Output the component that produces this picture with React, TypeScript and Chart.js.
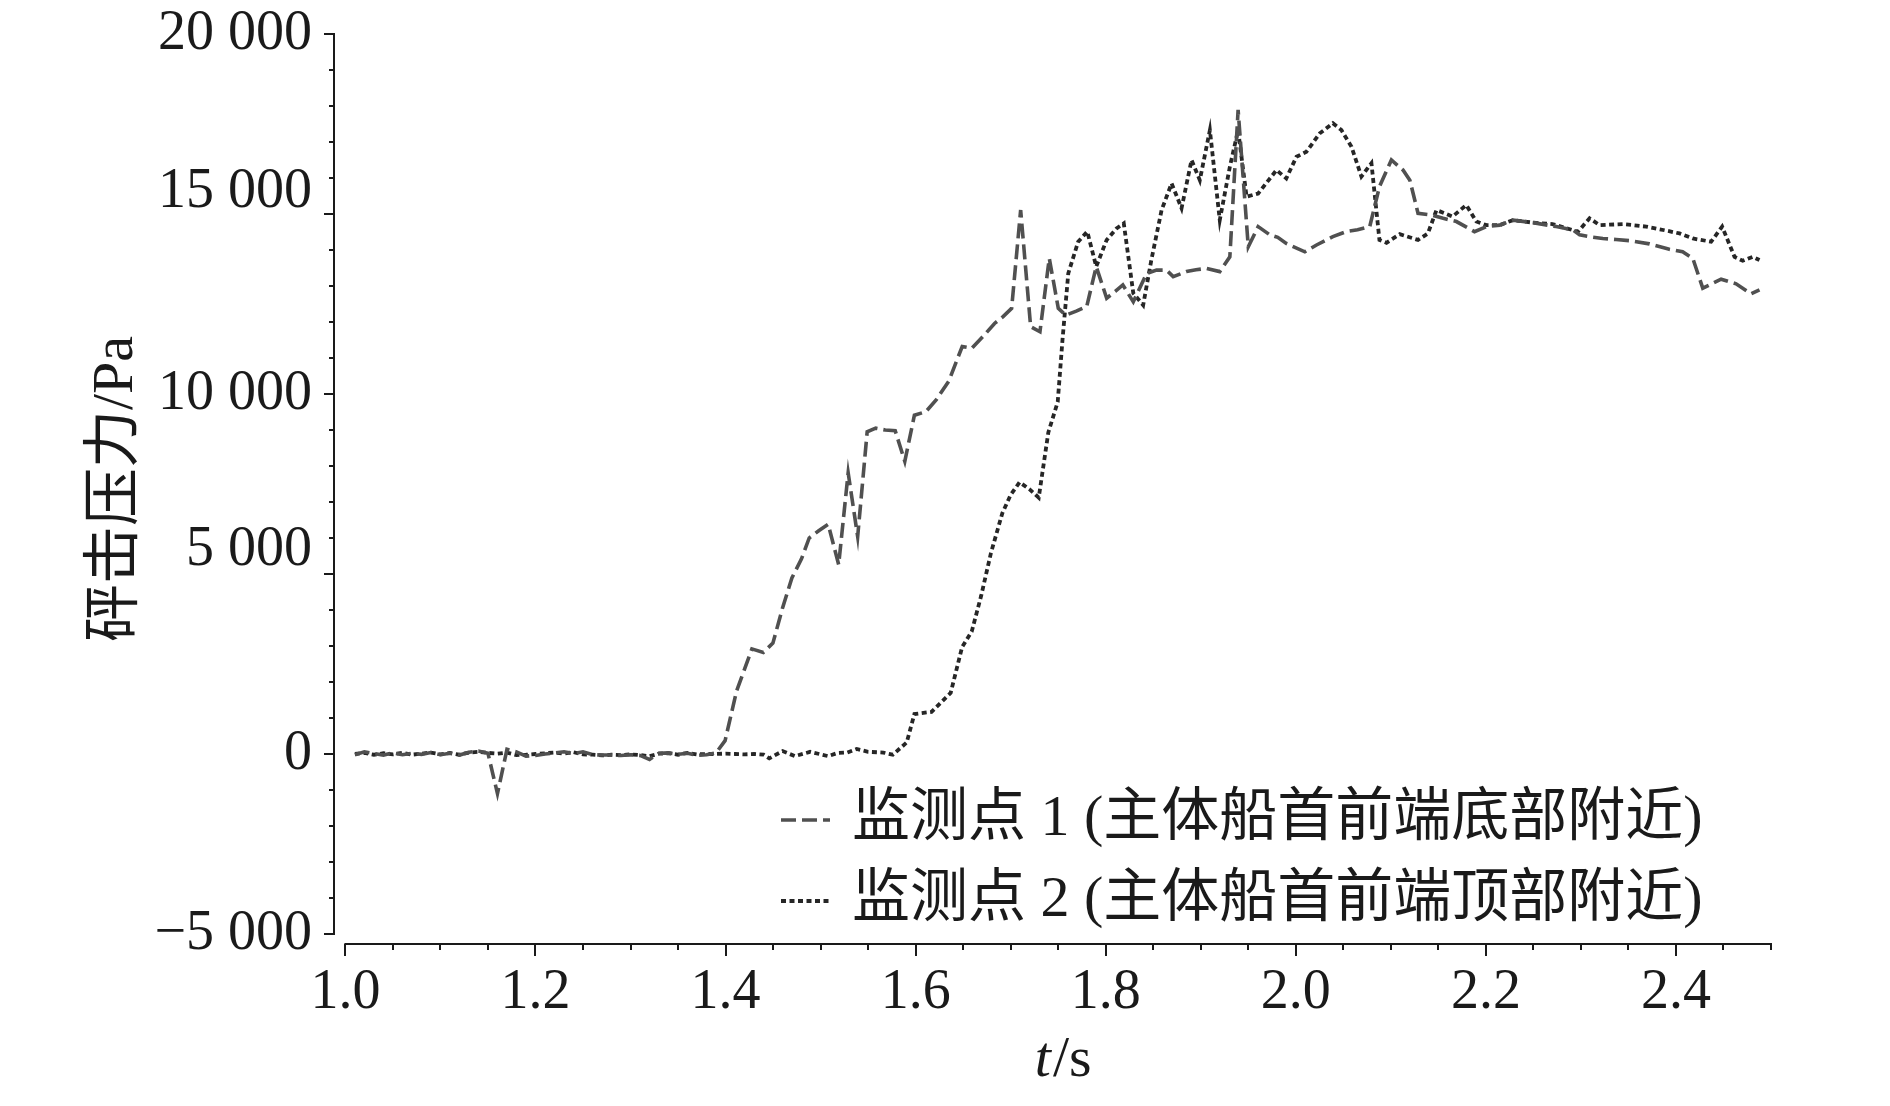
import React, { useEffect, useRef } from "react";
import { Chart, registerables } from "chart.js";

Chart.register(...registerables);

// ---- data ----
const seriesLabels = [
  "监测点 1 (主体船首前端底部附近)",
  "监测点 2 (主体船首前端顶部附近)",
];

const s1Time = [
  1.01, 1.02, 1.03, 1.04, 1.05, 1.06, 1.07, 1.08, 1.09, 1.1, 1.11, 1.12, 1.13, 1.14, 1.15, 1.16, 1.17, 1.18, 1.19, 1.2,
  1.21, 1.22, 1.23, 1.24, 1.25, 1.26, 1.27, 1.28, 1.29, 1.3, 1.31, 1.32, 1.33, 1.34, 1.35, 1.36, 1.37, 1.38, 1.39,
  1.3995, 1.4116, 1.4277, 1.4397, 1.4498, 1.4598, 1.4698, 1.4799, 1.488, 1.498, 1.508, 1.519, 1.529, 1.539, 1.549,
  1.558, 1.568, 1.5785, 1.5886, 1.5987, 1.6108, 1.622, 1.6349, 1.649, 1.659, 1.671, 1.683, 1.692, 1.701, 1.7105,
  1.721, 1.7308, 1.7406, 1.7501, 1.758, 1.769, 1.78, 1.79, 1.801, 1.81, 1.818, 1.829, 1.843, 1.8535, 1.864, 1.871,
  1.885, 1.895, 1.906, 1.92, 1.9306, 1.9393, 1.95, 1.9604, 1.9727, 1.981, 1.99, 2.0095, 2.0218, 2.039, 2.053, 2.065,
  2.0778, 2.088, 2.1006, 2.1128, 2.12, 2.1286, 2.1427, 2.155, 2.169, 2.188, 2.2005, 2.2145, 2.2285, 2.2496, 2.274,
  2.2916, 2.2986, 2.309, 2.323, 2.337, 2.351, 2.372, 2.393, 2.407, 2.4177, 2.4282, 2.4475, 2.4633, 2.479, 2.4879,
];
const s1Value = [
  -20, 60, 10, -30, 30, -20, 20, -10, 40, -20, 20, -30, 50, 80, 20, -1100, 130, 60, -60, -40,
  0, 30, 60, 10, 60, -20, -30, -30, -40, -20, -40, -150, 20, 30, -10, 20, -40, -20, 30,
  370, 1750, 2920, 2820, 3080, 4040, 4890, 5420, 6000, 6200, 6380, 5260, 7810, 6040, 8950,
  9050, 9000, 8980, 8130, 9410, 9510, 9850, 10360, 11320, 11270, 11600, 11960, 12150, 12380, 15110,
  11870, 11730, 13770, 12380, 12190, 12300, 12430, 13540, 12660, 12850, 13030, 12560, 13350, 13440, 13440, 13260,
  13400, 13450, 13490, 13400, 13810, 17890, 14090, 14650, 14420, 14350, 14180, 13950, 14140, 14370, 14510, 14560,
  14650, 15760, 16500, 16220, 15940, 15020, 14970, 14880, 14790, 14510, 14650, 14690, 14830, 14760, 14650,
  14560, 14420, 14370, 14320, 14290, 14260, 14170, 14020, 13950, 13770, 12940, 13190, 13060, 12780, 12890,
];

const s2Time = [
  1.01, 1.02, 1.03, 1.04, 1.05, 1.06, 1.07, 1.08, 1.09, 1.1, 1.11, 1.12, 1.13, 1.14, 1.15, 1.16, 1.17, 1.18, 1.19, 1.2,
  1.21, 1.22, 1.23, 1.24, 1.25, 1.26, 1.27, 1.28, 1.29, 1.3, 1.31, 1.32, 1.33, 1.34, 1.35, 1.36, 1.37, 1.38, 1.39,
  1.4, 1.41, 1.42, 1.43, 1.44, 1.446, 1.46, 1.473, 1.489, 1.508, 1.518, 1.528, 1.538, 1.55, 1.566, 1.576,
  1.5906, 1.5987, 1.6167, 1.6369, 1.6489, 1.659, 1.669, 1.6792, 1.6912, 1.7, 1.7094, 1.72, 1.7295, 1.7396, 1.7495,
  1.7545, 1.7606, 1.771, 1.7806, 1.79, 1.801, 1.8114, 1.819, 1.829, 1.8394, 1.848, 1.8588, 1.8693, 1.8798, 1.8903,
  1.899, 1.9096, 1.92, 1.9306, 1.9393, 1.9482, 1.9604, 1.9797, 1.99, 2.0007, 2.0112, 2.0252, 2.039, 2.048, 2.0586,
  2.069, 2.0796, 2.088, 2.0954, 2.1094, 2.1286, 2.139, 2.148, 2.165, 2.1794, 2.19, 2.2005, 2.2145, 2.2285, 2.2496,
  2.27, 2.2969, 2.3091, 2.3197, 2.344, 2.3687, 2.3897, 2.4037, 2.4177, 2.437, 2.4486, 2.4616, 2.4703, 2.4808, 2.4879,
];
const s2Value = [
  0, 30, -20, 20, -10, 30, -20, 10, 40, -10, 30, -20, 40, 60, 30, 10, 40, -30, -20, 0,
  20, 40, 10, 50, -10, -20, -40, -20, -30, -10, -30, -60, 10, 20, -20, 30, -10, 0, 0,
  10, 0, -10, 0, -20, -120, 80, -60, 60, -60, 30, 40, 140, 60, 40, -20,
  320, 1110, 1170, 1700, 2970, 3400, 4400, 5580, 6690, 7200, 7550, 7350, 7120, 8930, 9780,
  11500, 13350, 14230, 14510, 13540, 14280, 14600, 14740, 12800, 12470, 13720, 15110, 15850, 15160, 16500,
  15940, 17330, 14830, 16310, 17330, 15480, 15570, 16220, 15990, 16590, 16730, 17240, 17520, 17330, 16870,
  16040, 16410, 14280, 14200, 14440, 14280, 14460, 15110, 14930, 15250, 14790, 14690, 14690, 14830, 14760,
  14720, 14510, 14880, 14690, 14720, 14650, 14540, 14460, 14320, 14230, 14650, 13810, 13700, 13810, 13720,
];

const xLabelTicks = [1.0, 1.2, 1.4, 1.6, 1.8, 2.0, 2.2, 2.4];
const yLabelTicks = [-5000, 0, 5000, 10000, 15000, 20000];
const yTitle = "砰击压力/Pa";
const xTitleVar = "t";
const xTitleUnit = "/s";

// ---- styling ----
const FONT = '"Liberation Serif", "Noto Sans CJK SC", serif';
const INK = "#1a1a1a";
const C1 = "#505050";
const C2 = "#262626";
const DASH1 = [15, 6];
const DASH2 = [5, 3.5];
// the source figure nudges two of its y labels slightly upward
const Y_LABEL_NUDGE: Record<number, number> = { 15000: -22, 5000: -24 };

function fmtY(v: number) {
  if (v === 0) return "0";
  const a = Math.abs(v);
  const th = Math.floor(a / 1000);
  const rest = String(a % 1000).padStart(3, "0");
  return (v < 0 ? "\u2212" : "") + th + " " + rest;
}

const overlay = {
  id: "overlay",
  afterDraw(chart: any) {
    const { ctx, chartArea, scales } = chart;
    const xs = scales.x;
    const ys = scales.y;
    ctx.save();
    ctx.strokeStyle = INK;
    ctx.lineWidth = 2;
    ctx.setLineDash([]);
    const L = Math.round(chartArea.left);
    const B = Math.round(chartArea.bottom);
    // y axis
    ctx.beginPath();
    ctx.moveTo(L, ys.getPixelForValue(20000) - 1);
    ctx.lineTo(L, ys.getPixelForValue(-5000) + 1);
    ctx.stroke();
    for (let v = -5000; v <= 20000; v += 1000) {
      const py = Math.round(ys.getPixelForValue(v));
      const len = v % 5000 === 0 ? 10 : 5;
      ctx.beginPath();
      ctx.moveTo(L - len, py);
      ctx.lineTo(L, py);
      ctx.stroke();
    }
    // y labels
    ctx.fillStyle = INK;
    ctx.textBaseline = "middle";
    ctx.textAlign = "right";
    ctx.font = `56px ${FONT}`;
    yLabelTicks.forEach((v) => {
      const py = ys.getPixelForValue(v) + (Y_LABEL_NUDGE[v] || 0);
      ctx.fillText(fmtY(v), L - 22, py);
    });
    // x axis
    ctx.beginPath();
    ctx.moveTo(xs.getPixelForValue(1.0) - 1, B);
    ctx.lineTo(xs.getPixelForValue(2.5) + 1, B);
    ctx.stroke();
    for (let i = 0; i <= 30; i++) {
      const t = 1 + i * 0.05;
      const px = Math.round(xs.getPixelForValue(t));
      const len = i % 4 === 0 ? 12 : 6;
      ctx.beginPath();
      ctx.moveTo(px, B);
      ctx.lineTo(px, B + len);
      ctx.stroke();
    }
    // x title with italic variable
    ctx.textAlign = "left";
    const fItal = `italic 58px ${FONT}`;
    const fNorm = `58px ${FONT}`;
    ctx.font = fItal;
    const w1 = ctx.measureText(xTitleVar).width;
    ctx.font = fNorm;
    const w2 = ctx.measureText(xTitleUnit).width;
    const cx = (xs.getPixelForValue(1.0) + xs.getPixelForValue(2.5)) / 2 + 4;
    const ty = 1061;
    const x0 = cx - (w1 + w2) / 2;
    ctx.font = fItal;
    ctx.fillText(xTitleVar, x0, ty);
    ctx.font = fNorm;
    ctx.fillText(xTitleUnit, x0 + w1 + 2, ty);
    // legend
    const rows = [820, 901];
    chart.data.datasets.forEach((ds: any, i: number) => {
      const y = rows[i];
      ctx.strokeStyle = ds.borderColor;
      ctx.lineWidth = ds.borderWidth;
      ctx.setLineDash(ds.borderDash);
      ctx.beginPath();
      ctx.moveTo(781, y);
      ctx.lineTo(830, y);
      ctx.stroke();
      ctx.setLineDash([]);
      ctx.fillStyle = INK;
      ctx.font = `58px ${FONT}`;
      ctx.fillText(ds.label, 852, y);
    });
    ctx.restore();
  },
};

export default function App() {
  const ref = useRef<HTMLCanvasElement | null>(null);
  useEffect(() => {
    if (!ref.current) return;
    const d1 = s1Time.map((t, i) => ({ x: t, y: s1Value[i] }));
    const d2 = s2Time.map((t, i) => ({ x: t, y: s2Value[i] }));
    const chart = new Chart(ref.current, {
      type: "line",
      data: {
        datasets: [
          {
            label: seriesLabels[0],
            data: d1,
            borderColor: C1,
            borderWidth: 3.6,
            borderDash: DASH1,
            pointRadius: 0,
            tension: 0,
            fill: false,
          },
          {
            label: seriesLabels[1],
            data: d2,
            borderColor: C2,
            borderWidth: 3.8,
            borderDash: DASH2,
            pointRadius: 0,
            tension: 0,
            fill: false,
          },
        ],
      },
      options: {
        responsive: false,
        maintainAspectRatio: false,
        devicePixelRatio: 1,
        animation: false,
        events: [],
        layout: { padding: { top: 34, right: 119, bottom: 0, left: 0 } },
        plugins: { legend: { display: false }, tooltip: { enabled: false } },
        scales: {
          x: {
            type: "linear",
            min: 0.988,
            max: 2.5,
            afterBuildTicks: (s: any) => {
              s.ticks = xLabelTicks.map((v) => ({ value: v }));
            },
            afterFit: (s: any) => {
              s.height = 162;
            },
            border: { display: false },
            grid: { display: true, drawOnChartArea: false, drawTicks: true, tickLength: 16, color: "rgba(0,0,0,0)" },
            ticks: {
              autoSkip: false,
              maxRotation: 0,
              padding: 0,
              color: INK,
              font: { family: FONT, size: 56 },
              callback: (v: any) => Number(v).toFixed(1),
            },
            title: { display: false },
          },
          y: {
            type: "linear",
            min: -5278,
            max: 20000,
            afterBuildTicks: (s: any) => {
              s.ticks = yLabelTicks.map((v) => ({ value: v }));
            },
            afterFit: (s: any) => {
              s.width = 334;
            },
            border: { display: false },
            grid: { display: false, drawOnChartArea: false, drawTicks: false },
            ticks: { display: false },
            title: {
              display: true,
              text: yTitle,
              color: INK,
              font: { family: FONT, size: 58 },
              padding: { top: 82, bottom: 0 },
            },
          },
        },
      },
      plugins: [overlay],
    });
    return () => chart.destroy();
  }, []);
  return (
    <div style={{ position: "fixed", left: 0, top: 0, width: 1890, height: 1106, background: "#fff" }}>
      <canvas ref={ref} width={1890} height={1106} style={{ display: "block", width: 1890, height: 1106 }} />
    </div>
  );
}
